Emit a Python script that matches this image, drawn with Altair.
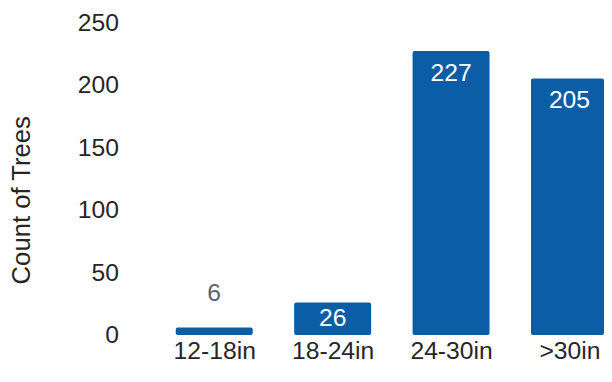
import altair as alt
import pandas as pd

categories = ["12-18in", "18-24in", "24-30in", ">30in"]
counts = [6, 26, 227, 205]
y_ticks = [0, 50, 100, 150, 200, 250]

df = pd.DataFrame({"size": categories, "count": counts, "idx": list(range(len(categories)))})

FONT = "Liberation Sans"
BAR = "#0b5ea6"
FS = 25
HALF = 0.325  # half bar width in category steps

label_expr = "[" + ",".join("'" + c + "'" for c in categories) + "][datum.value]"

x_scale = alt.Scale(domain=[-0.7417, 3.2917], clamp=True, nice=False, zero=False)
x_axis = alt.Axis(
    title=None, values=list(range(len(categories))), labelExpr=label_expr,
    labelAngle=0, domain=False, ticks=False, tickSize=0, grid=False,
    labelPadding=4, labelFontSize=FS, labelFont=FONT, labelColor="#262626",
    labelFlush=False, labelOverlap=False,
)
y_scale = alt.Scale(domain=[0, 250], nice=False, zero=True)
y_axis = alt.Axis(
    values=y_ticks, grid=False, domain=False, ticks=False, tickSize=0,
    labelPadding=8, labelFontSize=FS, labelFont=FONT, labelColor="#262626",
    title="Count of Trees", titleFontSize=26, titleFont=FONT,
    titleFontWeight="normal", titleColor="#262626",
    titleX=-106, titleY=180, titleBaseline="middle", titleAngle=-90,
)
y_enc = alt.Y("count:Q", scale=y_scale, axis=y_axis)

base = alt.Chart(df)

bars = (
    base.transform_calculate(x0=f"datum.idx - {HALF}", x1=f"datum.idx + {HALF}", y0="0")
    .mark_rect(color=BAR, cornerRadius=2)
    .encode(
        x=alt.X("x0:Q", scale=x_scale, axis=x_axis),
        x2="x1:Q",
        y=y_enc,
        y2="y0:Q",
    )
)

x_txt = alt.X("idx:Q", scale=x_scale, axis=x_axis)

inside = base.transform_filter("datum.count >= 100").mark_text(
    color="white", fontSize=FS, font=FONT, baseline="middle", dy=22
).encode(x=x_txt, y=y_enc, text="count:Q")

mid = base.transform_filter("datum.count >= 20 && datum.count < 100").mark_text(
    color="white", fontSize=FS, font=FONT, baseline="middle", dy=16
).encode(x=x_txt, y=y_enc, text="count:Q")

outside = base.transform_filter("datum.count < 20").mark_text(
    color="#5b6670", fontSize=FS, font=FONT, baseline="middle", dy=-35
).encode(x=x_txt, y=y_enc, text="count:Q")

chart = (
    alt.layer(bars, inside, mid, outside)
    .properties(
        width=484,
        height=317,
        autosize=alt.AutoSizeParams(type="none"),
        padding={"left": 120, "top": 12, "right": 0, "bottom": 26},
        background="white",
    )
    .configure_view(stroke=None)
)

chart.save("out.html", embed_options={"renderer": "svg", "actions": False})
